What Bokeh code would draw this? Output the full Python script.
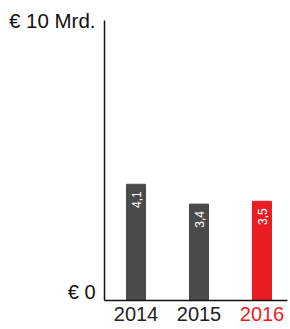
from bokeh.plotting import figure
from bokeh.models import ColumnDataSource, Range1d
from bokeh.core.properties import value
from bokeh.embed import file_html
from bokeh.resources import INLINE

years = ["2014", "2015", "2016"]
values = [4.1, 3.4, 3.5]
value_labels = ["4,1", "3,4", "3,5"]
bar_colors = ["#4a4a4a", "#4a4a4a", "#ec1c24"]
year_colors = ["#222222", "#222222", "#ec1c24"]
y_top = 9.88
y_max_label = "€ 10 Mrd."
y_min_label = "€ 0"

FONT = value("Liberation Sans")
W, H = 290, 329
PX_X = 63.0      # px per category
PX_Y = 28.35     # px per unit
X0_PX = 135.5    # screen x of first category
Y0_PX = 300.0    # screen y of zero

xs = list(range(len(years)))
src = ColumnDataSource(dict(x=xs, top=values, vlab=value_labels, year=years,
                            bc=bar_colors, yc=year_colors, zero=[0] * len(years)))

p = figure(width=W, height=H, output_backend="svg", toolbar_location=None,
           x_range=Range1d(-X0_PX / PX_X, (W - X0_PX) / PX_X),
           y_range=Range1d(-(H - Y0_PX) / PX_Y, Y0_PX / PX_Y),
           x_axis_location=None, y_axis_location=None,
           min_border=0)
p.grid.visible = False
p.outline_line_color = None

x_left = -0.5
x_right = (W - 3 - X0_PX) / PX_X

p.vbar(x="x", top="top", width=19 / PX_X, color="bc", source=src)

# axis lines
p.segment(x0=[x_left, x_left], y0=[0, 0], x1=[x_right, x_left], y1=[0, y_top],
          line_color="#111111", line_width=1.5)

p.text(x="x", y="top", text="vlab", source=src, angle=1.5708,
       text_align="right", text_baseline="middle", x_offset=0, y_offset=7,
       text_color="white", text_font=FONT, text_font_size="12px")
p.text(x="x", y="zero", text="year", source=src,
       text_align="center", text_baseline="top", y_offset=6,
       text_color="yc", text_font=FONT, text_font_size="20px")

p.text(x=[x_left], y=[y_top], text=[y_max_label], x_offset=-9, y_offset=0,
       text_align="right", text_baseline="middle", text_font=FONT,
       text_font_size="20.5px", text_color="#111111")
p.text(x=[x_left], y=[0], text=[y_min_label], x_offset=-9, y_offset=-9,
       text_align="right", text_baseline="middle", text_font=FONT,
       text_font_size="20px", text_color="#111111")

open("out.html", "w").write(file_html(p, INLINE))
